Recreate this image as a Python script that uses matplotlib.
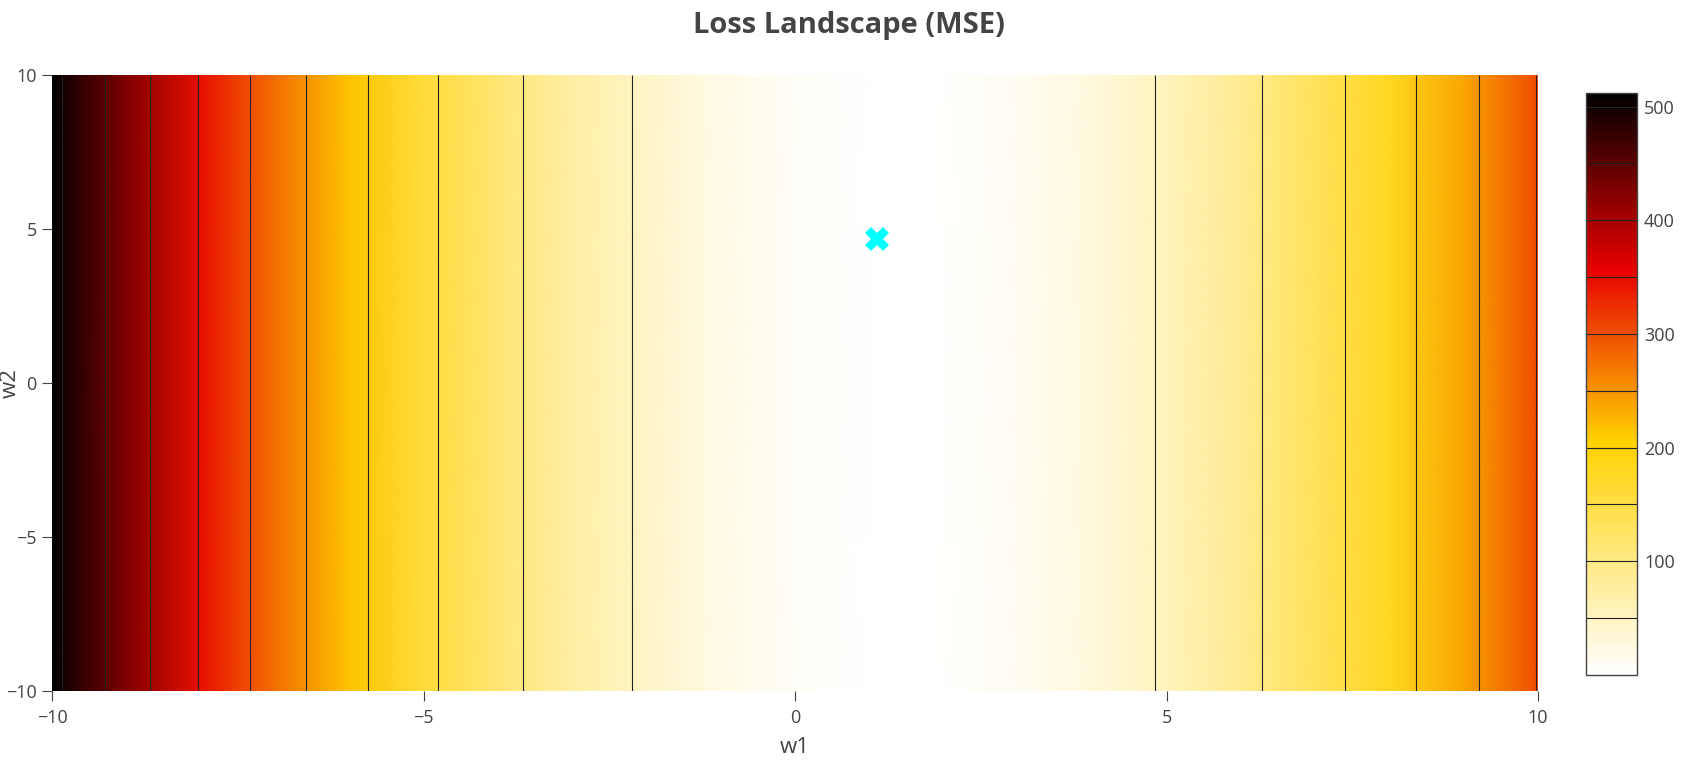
import numpy as np
import matplotlib

matplotlib.use("Agg")

import matplotlib.pyplot as plt
from matplotlib.colors import LinearSegmentedColormap


WIDTH = 1704
HEIGHT = 760
DPI = 100

INK = "#444444"
FONT = ["Open Sans", "DejaVu Sans"]

# Loss at each integer w1 (it does not change with w2).
w1 = [-10, -9, -8, -7, -6, -5, -4, -3, -2, -1, 0,
      1, 2, 3, 4, 5, 6, 7, 8, 9, 10]
loss = [512, 425, 347, 276, 214, 159, 113, 74, 44, 21, 7,
        0, 2, 11, 29, 54, 88, 130, 179, 237, 302]
w2 = [-10, 10]

levels = [50, 100, 150, 200, 250, 300, 350, 400, 450, 500]
axis_ticks = [-10, -5, 0, 5, 10]
cbar_ticks = [100, 200, 300, 400, 500]

current_w1 = [1.10]
current_w2 = [4.67]


def main():
    plt.rcParams["font.family"] = FONT

    hot_r = LinearSegmentedColormap.from_list(
        "hot_r",
        [(0.0, "#ffffff"), (0.4, "#ffd200"), (0.7, "#e60000"), (1.0, "#000000")],
    )

    fig = plt.figure(figsize=(WIDTH / DPI, HEIGHT / DPI), dpi=DPI, facecolor="white")
    ax = fig.add_axes([52 / WIDTH, 1 - 691 / HEIGHT, 1486 / WIDTH, 616 / HEIGHT])
    cax = fig.add_axes([1586 / WIDTH, 1 - 675 / HEIGHT, 51 / WIDTH, 582 / HEIGHT])

    z = np.tile(np.array(loss, dtype=float), (len(w2), 1))

    mesh = ax.pcolormesh(w1, w2, z, cmap=hot_r, shading="gouraud",
                         vmin=min(loss), vmax=max(loss), zorder=1)
    cs = ax.contour(w1, w2, z, levels=levels, colors="#222222",
                    linewidths=0.8, zorder=2)

    ax.plot(current_w1, current_w2, linestyle="none", marker="X",
            markersize=17, color="#00ffff", markeredgewidth=0, zorder=3)

    ax.set_xlim(-10, 10)
    ax.set_ylim(-10, 10)
    ax.set_xticks(axis_ticks)
    ax.set_yticks(axis_ticks)
    for side in ax.spines.values():
        side.set_visible(False)
    ax.tick_params(axis="both", direction="out", length=7, width=0.8,
                   color=INK, labelcolor=INK, labelsize=13)
    ax.tick_params(axis="x", pad=6)
    ax.tick_params(axis="y", pad=4)

    cbar = fig.colorbar(mesh, cax=cax)
    cbar.add_lines(cs)
    cbar.set_ticks(cbar_ticks)
    cbar.outline.set_edgecolor(INK)
    cbar.outline.set_linewidth(1.0)
    cax.tick_params(length=0, pad=5, labelcolor=INK, labelsize=13)

    fig.text(849 / WIDTH, 1 - 33 / HEIGHT, "Loss Landscape (MSE)",
             ha="center", va="baseline", fontsize=21, fontweight="bold",
             color=INK)
    fig.text(795 / WIDTH, 1 - 753 / HEIGHT, "w1", ha="center",
             va="baseline", fontsize=16, color=INK)
    # The reference pins w2 against the left edge; keep it just inside.
    fig.text(0, 1 - 383 / HEIGHT, "w2", ha="left", va="center",
             rotation=90, fontsize=16, color=INK)

    fig.savefig("out.png", dpi=DPI, facecolor="white")
    plt.close(fig)


if __name__ == "__main__":
    main()
